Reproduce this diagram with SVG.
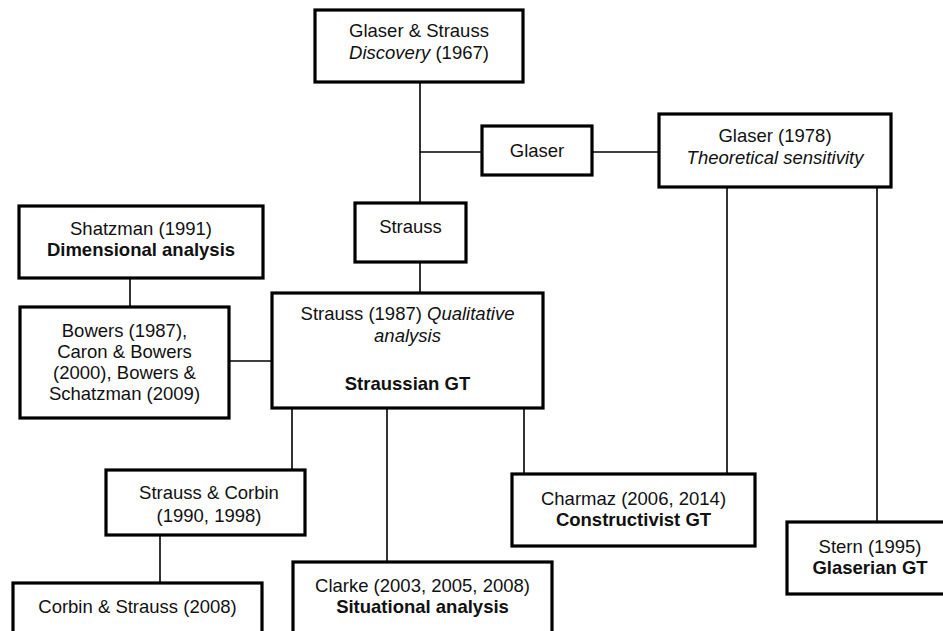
<svg xmlns="http://www.w3.org/2000/svg" width="943" height="631" viewBox="0 0 943 631">
  <style>
    .box { fill: #ffffff; stroke: #000000; stroke-width: 3.2; }
    .link { fill: none; stroke: #000000; stroke-width: 1.6; }
    text { font-family: "Liberation Sans", Arial, sans-serif; font-size: 18.5px; fill: #111111; text-anchor: middle; }
    .it { font-style: italic; }
    .b { font-weight: bold; }
  </style>
  <rect width="943" height="631" fill="#ffffff"/>

  <!-- connectors -->
  <g id="connectors">
    <path class="link" d="M420,82 V203"/>
    <path class="link" d="M420,152 H482"/>
    <path class="link" d="M592,152 H659"/>
    <path class="link" d="M420,262 V293"/>
    <path class="link" d="M727,187 V474"/>
    <path class="link" d="M877,187 V522"/>
    <path class="link" d="M130,278 V307"/>
    <path class="link" d="M229,361 H272"/>
    <path class="link" d="M292,408 V470"/>
    <path class="link" d="M387,408 V562"/>
    <path class="link" d="M524,408 V474"/>
    <path class="link" d="M160,535 V583"/>
  </g>

  <!-- nodes -->
  <g id="discovery">
    <rect class="box" x="315" y="10" width="208" height="72"/>
    <text x="419" y="37">Glaser &amp; Strauss</text>
    <text x="419" y="59"><tspan class="it">Discovery</tspan> (1967)</text>
  </g>

  <g id="glaser">
    <rect class="box" x="482" y="126" width="110" height="49"/>
    <text x="537" y="157">Glaser</text>
  </g>

  <g id="theoretical-sensitivity">
    <rect class="box" x="659" y="114" width="232" height="73"/>
    <text x="775" y="142">Glaser (1978)</text>
    <text x="775" y="164" class="it">Theoretical sensitivity</text>
  </g>

  <g id="strauss">
    <rect class="box" x="355" y="203" width="111" height="59"/>
    <text x="410.5" y="233">Strauss</text>
  </g>

  <g id="shatzman">
    <rect class="box" x="19" y="206" width="244" height="72"/>
    <text x="141" y="235">Shatzman (1991)</text>
    <text x="141" y="256" class="b">Dimensional analysis</text>
  </g>

  <g id="bowers">
    <rect class="box" x="20" y="307" width="209" height="111"/>
    <text x="124.5" y="337">Bowers (1987),</text>
    <text x="124.5" y="358">Caron &amp; Bowers</text>
    <text x="124.5" y="379">(2000), Bowers &amp;</text>
    <text x="124.5" y="400">Schatzman (2009)</text>
  </g>

  <g id="straussian-gt">
    <rect class="box" x="272" y="293" width="271" height="115"/>
    <text x="407.5" y="320">Strauss (1987)  <tspan class="it">Qualitative</tspan></text>
    <text x="407.5" y="342" class="it">analysis</text>
    <text x="407.5" y="390" class="b">Straussian GT</text>
  </g>

  <g id="strauss-corbin">
    <rect class="box" x="106" y="470" width="199" height="65"/>
    <text x="209" y="499">Strauss &amp; Corbin</text>
    <text x="209" y="522">(1990, 1998)</text>
  </g>

  <g id="corbin-strauss">
    <rect class="box" x="13" y="583" width="249" height="70"/>
    <text x="137.5" y="613">Corbin &amp; Strauss (2008)</text>
  </g>

  <g id="situational-analysis">
    <rect class="box" x="293" y="562" width="259" height="90"/>
    <text x="422.5" y="592">Clarke (2003, 2005, 2008)</text>
    <text x="422.5" y="613" class="b">Situational analysis</text>
  </g>

  <g id="constructivist-gt">
    <rect class="box" x="512" y="474" width="243" height="72"/>
    <text x="633.5" y="505">Charmaz (2006, 2014)</text>
    <text x="633.5" y="526" class="b">Constructivist GT</text>
  </g>

  <g id="glaserian-gt">
    <rect class="box" x="787" y="522" width="166" height="72"/>
    <text x="870" y="553">Stern (1995)</text>
    <text x="870" y="574" class="b">Glaserian GT</text>
  </g>
</svg>
